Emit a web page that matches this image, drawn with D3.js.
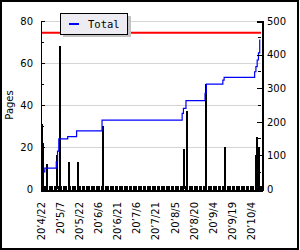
<!DOCTYPE html>
<html>
<head>
<meta charset="utf-8">
<script src="https://cdn.jsdelivr.net/npm/d3@7"></script>
<style>
  body { margin: 0; background: #fff; }
  text { font-family: "DejaVu Sans", sans-serif; font-size: 10px; fill: #000; }
</style>
</head>
<body>
<div id="chart"></div>
<script>
// daily pages from 2020-04-22, one slot per day
const firstDay = new Date(2020, 3, 22);
const dayCount = 173;

// days (offset from first day) that have pages, and how many
const barDays  = [0, 1, 4, 12, 14, 21, 28, 48, 112, 114, 129, 144, 168, 169, 170, 171];
const barPages = [31, 22, 12, 16, 68, 13, 13, 30, 19, 37, 50, 20, 16, 25, 20, 20];

// running total (right axis), step points
const totalDays   = [2, 3, 12, 13, 14, 21, 28, 48, 111, 112, 114, 129, 130, 143, 144, 168, 169, 170, 171, 172];
const totalValues = [51, 62, 81, 113, 149, 156, 173, 205, 225, 240, 263, 285, 312, 324, 332, 349, 364, 384, 405, 445];

const targetTotal = 465;

const labelDays  = d3.range(0, 166, 15);
const leftTicks  = [0, 20, 40, 60, 80];
const leftMinor  = [10, 30, 50, 70];
const rightTicks = [0, 100, 200, 300, 400, 500];
const rightMinor = [50, 150, 250, 350, 450];

const W = 300, H = 250;
const svg = d3.select('#chart').append('svg')
  .attr('width', W)
  .attr('height', H);

const x  = d3.scaleLinear().domain([0, dayCount]).range([41, 261]);
const yL = d3.scaleLinear().domain([0, 80]).range([189, 21]);
const yR = d3.scaleLinear().domain([0, 500]).range([189, 21]);

// outer frame
svg.append('rect')
  .attr('x', 1).attr('y', 1)
  .attr('width', 297).attr('height', 248)
  .attr('fill', '#fff')
  .attr('stroke', '#000')
  .attr('stroke-width', 2);

// grid lines
svg.selectAll('line.grid')
  .data(leftTicks.slice(1))
  .enter()
  .append('line')
  .attr('class', 'grid')
  .attr('x1', 41).attr('x2', 261)
  .attr('y1', d => Math.round(yL(d)) + 0.5)
  .attr('y2', d => Math.round(yL(d)) + 0.5)
  .attr('stroke', '#d4d4d4')
  .attr('stroke-width', 1);

// target line
svg.append('line')
  .attr('x1', 41).attr('x2', 261)
  .attr('y1', yR(targetTotal)).attr('y2', yR(targetTotal))
  .attr('stroke', '#f00')
  .attr('stroke-width', 2);

// bars
svg.selectAll('rect.bar')
  .data(barDays.map((d, i) => ({ day: d, pages: barPages[i] })))
  .enter()
  .append('rect')
  .attr('class', 'bar')
  .attr('x', d => x(d.day))
  .attr('y', d => yL(d.pages))
  .attr('width', 2)
  .attr('height', d => yL(0) - yL(d.pages))
  .attr('fill', '#000')
  .attr('shape-rendering', 'crispEdges');

// running total line
const line = d3.line()
  .x(d => x(d[0]))
  .y(d => yR(d[1]))
  .curve(d3.curveStepAfter);

svg.append('path')
  .datum(totalDays.map((d, i) => [d, totalValues[i]]))
  .attr('d', line)
  .attr('fill', 'none')
  .attr('stroke', '#00f')
  .attr('stroke-width', 1.2);

// x axis: a tick for every day, pointing inward
const xAxis = svg.append('g')
  .attr('transform', 'translate(0,190)')
  .call(d3.axisBottom(x).tickValues(d3.range(0, dayCount + 1)).tickSize(-4).tickFormat(''))
  .attr('shape-rendering', 'crispEdges');
xAxis.select('.domain').attr('stroke-width', 2);
xAxis.selectAll('.tick line').attr('stroke-width', 1);

const fmt = d3.timeFormat('%y\u2019%-m/%-d');
svg.selectAll('text.xlab')
  .data(labelDays)
  .enter()
  .append('text')
  .attr('class', 'xlab')
  .attr('transform', d => `translate(${x(d) + 4},202) rotate(-90)`)
  .attr('text-anchor', 'end')
  .text(d => fmt(d3.timeDay.offset(firstDay, d)));

// left axis
const leftAxis = svg.append('g')
  .attr('transform', 'translate(41,0)')
  .call(d3.axisLeft(yL).tickValues(leftTicks).tickSize(-4).tickPadding(8))
  .attr('shape-rendering', 'crispEdges');
leftAxis.selectAll('text').style('font-size', '10px').attr('x', -8);
svg.selectAll('line.lminor')
  .data(leftMinor)
  .enter()
  .append('line')
  .attr('class', 'lminor')
  .attr('x1', 41).attr('x2', 44)
  .attr('y1', d => yL(d)).attr('y2', d => yL(d))
  .attr('stroke', '#000')
  .attr('shape-rendering', 'crispEdges');

svg.append('text')
  .attr('transform', 'translate(13,105) rotate(-90)')
  .attr('text-anchor', 'middle')
  .text('Pages');

// right axis
const rightAxis = svg.append('g')
  .attr('transform', 'translate(262,0)')
  .call(d3.axisRight(yR).tickValues(rightTicks).tickSize(-5).tickPadding(6))
  .attr('shape-rendering', 'crispEdges');
rightAxis.select('.domain').attr('stroke-width', 2);
rightAxis.selectAll('text').style('font-size', '10px').attr('x', 5);
svg.selectAll('line.rminor')
  .data(rightMinor)
  .enter()
  .append('line')
  .attr('class', 'rminor')
  .attr('x1', 258).attr('x2', 261)
  .attr('y1', d => yR(d)).attr('y2', d => yR(d))
  .attr('stroke', '#000')
  .attr('shape-rendering', 'crispEdges');

// legend
const legend = svg.append('g').attr('shape-rendering', 'crispEdges');
legend.append('rect')
  .attr('x', 63).attr('y', 16)
  .attr('width', 68).attr('height', 21)
  .attr('fill', '#c4c4c4');
legend.append('rect')
  .attr('x', 60.5).attr('y', 13.5)
  .attr('width', 67).attr('height', 21)
  .attr('fill', '#ececf2')
  .attr('stroke', '#000');
legend.append('line')
  .attr('x1', 69).attr('x2', 79)
  .attr('y1', 24).attr('y2', 24)
  .attr('stroke', '#00f')
  .attr('stroke-width', 2);
legend.append('text')
  .attr('x', 88).attr('y', 28)
  .style('font-family', '"DejaVu Sans Mono", monospace')
  .style('font-size', '10.5px')
  .text('Total');
</script>
</body>
</html>
